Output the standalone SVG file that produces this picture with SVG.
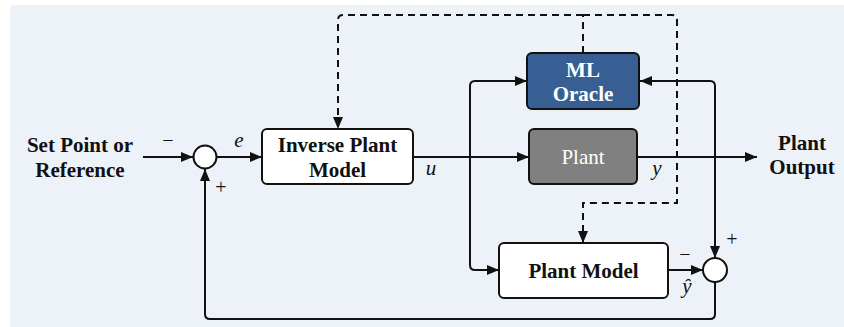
<svg xmlns="http://www.w3.org/2000/svg" width="844" height="327" viewBox="0 0 844 327">
<style>
.lbl{font-family:"Liberation Serif","Times New Roman",serif;font-weight:bold;font-size:21px;fill:#111;text-anchor:middle}
.var{font-family:"Liberation Serif","Times New Roman",serif;font-style:italic;font-size:21px;fill:#111;text-anchor:middle}
.sgn{font-family:"Liberation Serif","Times New Roman",serif;font-size:20px;fill:#111;text-anchor:middle}
.wht{fill:#fff}
.box{stroke:#111;stroke-width:2}
.ln{fill:none;stroke:#111;stroke-width:2}
.dash{fill:none;stroke:#111;stroke-width:2;stroke-dasharray:7 5}
.sum{fill:#fff;stroke:#111;stroke-width:2}
</style>
<defs>
<marker id="ah" viewBox="0 0 12 10" refX="12" refY="5" markerWidth="12" markerHeight="10" markerUnits="userSpaceOnUse" orient="auto">
<path d="M0,0 L12,5 L0,10 Z" fill="#111"/>
</marker>
</defs>
<rect x="10" y="5" width="840" height="330" rx="4" fill="#edf2f9"/>
<g id="connectors">
<line class="ln" x1="143" y1="157" x2="193" y2="157" marker-end="url(#ah)"/>
<line class="ln" x1="217" y1="157" x2="262" y2="157" marker-end="url(#ah)"/>
<line class="ln" x1="413" y1="157" x2="529" y2="157" marker-end="url(#ah)"/>
<path class="ln" d="M527,81 H475 Q470,81 470,86 V265 Q470,270 475,270 H499" marker-end="url(#ah)"/>
<path class="ln" d="M490,81 H527" marker-end="url(#ah)"/>
<line class="ln" x1="637" y1="157" x2="757" y2="157" marker-end="url(#ah)"/>
<path class="ln" d="M715,258 V86 Q715,81 710,81 H640" marker-end="url(#ah)"/>
<path class="ln" d="M715,90 V258" marker-end="url(#ah)"/>
<line class="ln" x1="668" y1="270" x2="703" y2="270" marker-end="url(#ah)"/>
<path class="ln" d="M715,282 V314 Q715,319 710,319 H210 Q205,319 205,314 V169" marker-end="url(#ah)"/>
<path class="dash" d="M583,53 V15"/>
<path class="dash" d="M583,15 H343 Q338,15 338,20 V129" marker-end="url(#ah)"/>
<path class="dash" d="M583,15 H672 Q677,15 677,20 V203 H583 V243" marker-end="url(#ah)"/>
</g>
<g id="setpoint">
<text class="lbl" x="80" y="152">Set Point or</text>
<text class="lbl" x="80" y="177">Reference</text>
</g>
<g id="sum1">
<circle class="sum" cx="205" cy="157" r="11.5"/>
<text class="sgn" x="168" y="147">−</text>
<text class="sgn" x="221" y="194">+</text>
<text class="var" x="239" y="147">e</text>
</g>
<g id="inverse-plant">
<rect class="box" x="262" y="129" width="151" height="55" rx="5" fill="#fff"/>
<text class="lbl" x="337.5" y="152">Inverse Plant</text>
<text class="lbl" x="337.5" y="177">Model</text>
</g>
<text class="var" x="431" y="175">u</text>
<g id="ml-oracle">
<rect class="box" x="527" y="53" width="112" height="56" rx="5" fill="#385f93"/>
<text class="lbl wht" x="583" y="77">ML</text>
<text class="lbl wht" x="583" y="101">Oracle</text>
</g>
<g id="plant">
<rect class="box" x="529" y="129" width="108" height="55" rx="5" fill="#808080"/>
<text x="583" y="164" font-family="Liberation Serif, Times New Roman, serif" font-size="21" fill="#fff" text-anchor="middle">Plant</text>
</g>
<text class="var" x="657" y="175">y</text>
<g id="plant-output">
<text class="lbl" x="802" y="150">Plant</text>
<text class="lbl" x="802" y="174">Output</text>
</g>
<g id="plant-model">
<rect class="box" x="499" y="243" width="169" height="55" rx="5" fill="#fff"/>
<text class="lbl" x="583.5" y="278">Plant Model</text>
</g>
<g id="sum2">
<circle class="sum" cx="715" cy="270" r="12"/>
<text class="sgn" x="732" y="246">+</text>
<text class="sgn" x="685" y="261">−</text>
<text class="var" x="687" y="293">ŷ</text>
</g>
</svg>
